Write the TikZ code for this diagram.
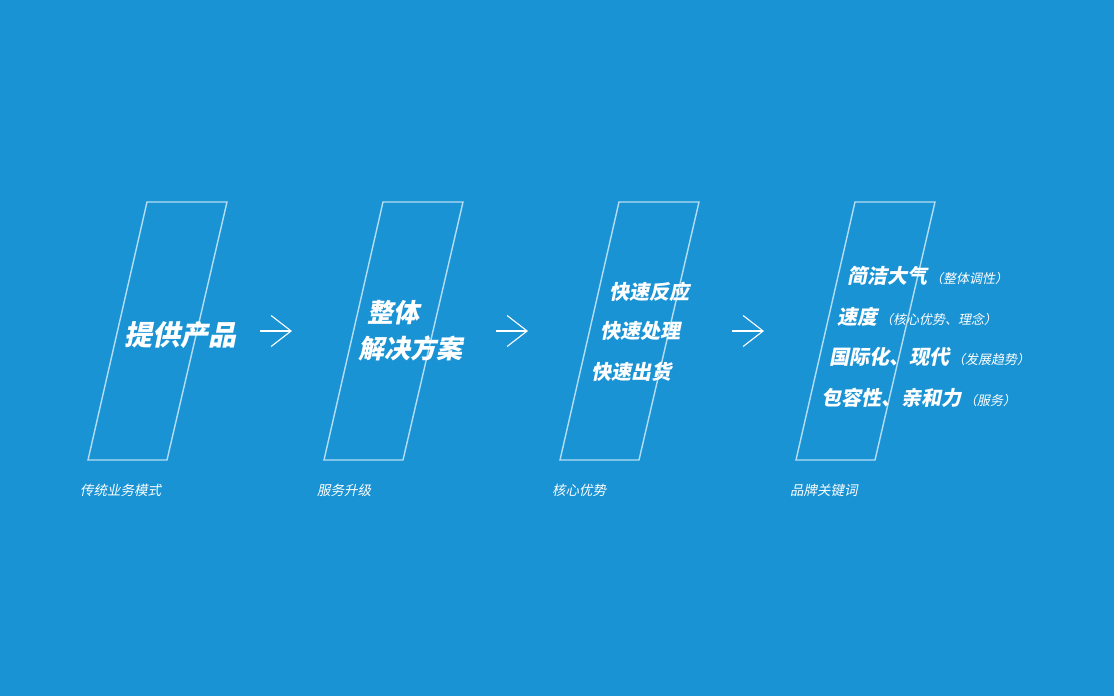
\documentclass[tikz,border=0pt]{standalone}
\usepackage{fontspec}
\usetikzlibrary{arrows.meta}
\newfontfamily\cjk{Noto Sans CJK SC}[FakeSlant=0.2]
\definecolor{bgblue}{HTML}{1A93D4}
\definecolor{framecol}{HTML}{B4DDF3}
\tikzstyle{frame}=[draw=framecol, line width=1.4pt, line join=miter]
\tikzstyle{flow}=[draw=white, line width=1.1pt, -{Straight Barb[length=20pt,width=31pt]}]
\tikzstyle{headline}=[text=white, inner sep=0, anchor=west, font=\cjk\bfseries\fontsize{20}{24}\selectfont]
\tikzstyle{caption}=[text=white, inner sep=0, anchor=west, font=\cjk\fontsize{13.5}{16}\selectfont]
\newcommand{\aside}[1]{\kern3pt{\mdseries\fontsize{13}{15}\selectfont #1}}

\begin{document}
\begin{tikzpicture}[x=1pt,y=-1pt]
\useasboundingbox (0,0) rectangle (1114,696);
\fill[bgblue] (0,0) rectangle (1114,696);
% panels
\draw[frame] (147,202)--(227,202)--(167,460)--(88,460)--cycle;
\draw[frame] (383,202)--(463,202)--(403,460)--(324,460)--cycle;
\draw[frame] (619,202)--(699,202)--(639,460)--(560,460)--cycle;
\draw[frame] (855,202)--(935,202)--(875,460)--(796,460)--cycle;
% step texts
\node[headline, font=\cjk\bfseries\fontsize{28}{32}\selectfont] (product) at (124,335) {提供产品};
\node[headline, font=\cjk\bfseries\fontsize{26}{30}\selectfont] (whole) at (367,313) {整体};
\node[headline, font=\cjk\bfseries\fontsize{26}{30}\selectfont] (solution) at (358,348) {解决方案};
\node[headline] (react) at (609,292) {快速反应};
\node[headline] (handle) at (600,331) {快速处理};
\node[headline] (ship) at (591,372) {快速出货};
\node[headline] (simple) at (847,276) {简洁大气\aside{（整体调性）}};
\node[headline] (speed) at (837,317) {速度\aside{（核心优势、理念）}};
\node[headline] (modern) at (829,357) {国际化、现代\aside{（发展趋势）}};
\node[headline] (kind) at (821,398) {包容性、亲和力\aside{（服务）}};
% captions
\node[caption] (old) at (80,490) {传统业务模式};
\node[caption] (upgrade) at (317,490) {服务升级};
\node[caption] (core) at (552,490) {核心优势};
\node[caption] (brand) at (790,490) {品牌关键词};
% arrows
\coordinate (a1) at (260,331);
\coordinate (b1) at (292,331);
\coordinate (a2) at (496,331);
\coordinate (b2) at (528,331);
\coordinate (a3) at (732,331);
\coordinate (b3) at (764,331);
\draw[flow] (a1)--(b1);
\draw[flow] (a2)--(b2);
\draw[flow] (a3)--(b3);
\end{tikzpicture}
\end{document}
